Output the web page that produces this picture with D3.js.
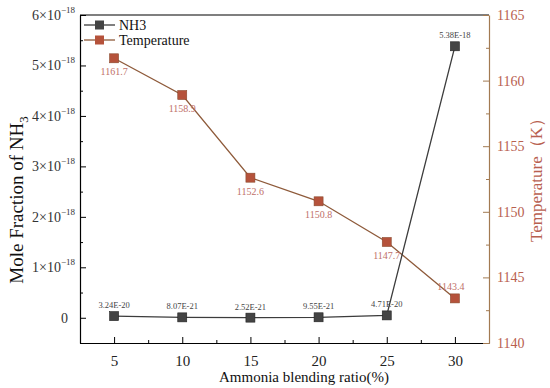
<!DOCTYPE html>
<html>
<head>
<meta charset="utf-8">
<script src="https://cdn.jsdelivr.net/npm/d3@7"></script>
<style>
  body { margin: 0; background: #fff; }
  text { font-family: "Liberation Serif", "DejaVu Serif", serif; }
</style>
</head>
<body>
<svg width="550" height="388"></svg>
<script>
var svg = d3.select('svg');

// data
var ratios = [5, 10, 15, 20, 25, 30];
var nh3 = [3.24e-20, 8.07e-21, 2.52e-21, 9.55e-21, 4.71e-20, 5.38e-18];
var nh3Labels = ["3.24E-20", "8.07E-21", "2.52E-21", "9.55E-21", "4.71E-20", "5.38E-18"];
var temperature = [1161.7, 1158.9, 1152.6, 1150.8, 1147.7, 1143.4];
var xTicks = [5, 10, 15, 20, 25, 30];
var leftTicks = [0, 1, 2, 3, 4, 5, 6];   // x 10^-18
var rightTicks = [1140, 1145, 1150, 1155, 1160, 1165];

var pLeft = 80, pRight = 489, pTop = 15, pBottom = 343;

var x = d3.scaleLinear().domain([2.5, 32.5]).range([pLeft, pRight]);
var yL = d3.scaleLinear().domain([-0.5e-18, 6e-18]).range([pBottom, pTop]);
var yR = d3.scaleLinear().domain([1140, 1165]).range([pBottom, pTop]);

var gray = '#3c3c3c';
var tempLine = '#8e5a3a';
var tempMark = '#b5523b';
var tempAxis = '#a27a52';
var tempText = '#b8604f';

// top frame
svg.append('line')
  .attr('x1', pLeft).attr('x2', pRight)
  .attr('y1', pTop).attr('y2', pTop)
  .attr('stroke', '#000').attr('stroke-width', 1.2);

// x axis
var xAxis = svg.append('g')
  .attr('transform', 'translate(0,' + pBottom + ')')
  .call(d3.axisBottom(x).tickValues(xTicks).tickSizeInner(-6).tickSizeOuter(0).tickPadding(12).tickFormat(d3.format('d')));
xAxis.select('.domain').attr('stroke', '#000').attr('stroke-width', 1.2);
xAxis.selectAll('.tick line').attr('stroke', '#000');
xAxis.selectAll('.tick text').attr('font-size', 15).attr('fill', '#222');
svg.append('g')
  .attr('transform', 'translate(0,' + pBottom + ')')
  .call(d3.axisBottom(x).tickValues([7.5, 12.5, 17.5, 22.5, 27.5]).tickSize(-3).tickFormat(''))
  .call(function (g) { g.select('.domain').remove(); g.selectAll('line').attr('stroke', '#000'); });

// left axis
var lAxis = svg.append('g')
  .attr('transform', 'translate(' + pLeft + ',0)')
  .call(d3.axisLeft(yL).tickValues(leftTicks.map(function (d) { return d * 1e-18; })).tickSizeInner(-6).tickSizeOuter(0).tickPadding(5).tickFormat(''));
lAxis.select('.domain').attr('stroke', '#000').attr('stroke-width', 1.2);
lAxis.selectAll('.tick line').attr('stroke', '#000');
lAxis.selectAll('.tick').each(function (d, i) {
  var t = d3.select(this).select('text').attr('font-size', 14).attr('fill', '#333');
  var v = leftTicks[i];
  if (v === 0) {
    t.text('0').attr('dx', -7);
  } else {
    t.text(v + '\u00d710');
    t.append('tspan').attr('dy', -7).attr('font-size', 9).text('\u221218');
  }
});
svg.append('g')
  .attr('transform', 'translate(' + pLeft + ',0)')
  .call(d3.axisLeft(yL).tickValues([-0.5, 0.5, 1.5, 2.5, 3.5, 4.5, 5.5].map(function (d) { return d * 1e-18; })).tickSize(-3).tickFormat(''))
  .call(function (g) { g.select('.domain').remove(); g.selectAll('line').attr('stroke', '#000'); });

// right axis
var rAxis = svg.append('g')
  .attr('transform', 'translate(' + pRight + ',0)')
  .call(d3.axisRight(yR).tickValues(rightTicks).tickSizeInner(-6).tickSizeOuter(0).tickPadding(8).tickFormat(d3.format('d')));
rAxis.select('.domain').attr('stroke', tempAxis).attr('stroke-width', 1.2);
rAxis.selectAll('.tick line').attr('stroke', tempAxis);
rAxis.selectAll('.tick text').attr('font-size', 14).attr('fill', tempText);
svg.append('g')
  .attr('transform', 'translate(' + pRight + ',0)')
  .call(d3.axisRight(yR).tickValues([1142.5, 1147.5, 1152.5, 1157.5, 1162.5]).tickSize(-3).tickFormat(''))
  .call(function (g) { g.select('.domain').remove(); g.selectAll('line').attr('stroke', tempAxis); });

// axis titles
var yt = svg.append('text')
  .attr('transform', 'translate(23,200) rotate(-90)')
  .attr('text-anchor', 'middle').attr('font-size', 19).attr('fill', '#111')
  .text('Mole Fraction of NH');
yt.append('tspan').attr('dy', 5).attr('font-size', 13).text('3');

svg.append('text')
  .attr('transform', 'translate(542,176) rotate(-90)')
  .attr('text-anchor', 'middle').attr('font-size', 17).attr('fill', tempText)
  .text('Temperature\uff08K\uff09');

svg.append('text')
  .attr('x', 304).attr('y', 382)
  .attr('text-anchor', 'middle').attr('font-size', 15).attr('fill', '#111')
  .text('Ammonia blending ratio(%)');

// temperature series
var tData = ratios.map(function (r, i) { return { x: r, y: temperature[i] }; });
svg.append('path')
  .datum(tData)
  .attr('fill', 'none').attr('stroke', tempLine).attr('stroke-width', 1.3)
  .attr('d', d3.line().x(function (d) { return x(d.x); }).y(function (d) { return yR(d.y); }));
svg.selectAll('rect.temp')
  .data(tData)
  .enter()
  .append('rect')
  .attr('class', 'temp')
  .attr('x', function (d) { return x(d.x) - 4.5; })
  .attr('y', function (d) { return yR(d.y) - 4.5; })
  .attr('width', 9).attr('height', 9)
  .attr('fill', tempMark).attr('stroke', '#8a4a2e').attr('stroke-width', 0.6);
svg.selectAll('text.tlab')
  .data(tData)
  .enter()
  .append('text')
  .attr('class', 'tlab')
  .attr('x', function (d, i) { return x(d.x) + (i === 5 ? -4 : 0); })
  .attr('y', function (d, i) { return i === 5 ? yR(d.y) - 8 : yR(d.y) + 17; })
  .attr('text-anchor', 'middle')
  .attr('font-size', 10).attr('fill', '#c0706a')
  .attr('font-family', '"DejaVu Serif", serif')
  .text(function (d) { return d.y.toFixed(1); });

// NH3 series
var nData = ratios.map(function (r, i) { return { x: r, y: nh3[i], label: nh3Labels[i] }; });
svg.append('path')
  .datum(nData)
  .attr('fill', 'none').attr('stroke', gray).attr('stroke-width', 1.3)
  .attr('d', d3.line().x(function (d) { return x(d.x); }).y(function (d) { return yL(d.y); }));
svg.selectAll('rect.nh3')
  .data(nData)
  .enter()
  .append('rect')
  .attr('class', 'nh3')
  .attr('x', function (d) { return x(d.x) - 4.5; })
  .attr('y', function (d) { return yL(d.y) - 4.5; })
  .attr('width', 9).attr('height', 9)
  .attr('fill', '#444').attr('stroke', '#222').attr('stroke-width', 0.6);
svg.selectAll('text.nlab')
  .data(nData)
  .enter()
  .append('text')
  .attr('class', 'nlab')
  .attr('x', function (d) { return x(d.x); })
  .attr('y', function (d) { return yL(d.y) - 8; })
  .attr('text-anchor', 'middle')
  .attr('font-size', 8.5).attr('fill', '#444')
  .attr('font-family', '"DejaVu Serif", serif')
  .text(function (d) { return d.label; });

// legend
var legend = [
  { name: 'NH3', line: gray, mark: '#444' },
  { name: 'Temperature', line: tempLine, mark: tempMark }
];
var lg = svg.selectAll('g.leg')
  .data(legend)
  .enter()
  .append('g')
  .attr('class', 'leg')
  .attr('transform', function (d, i) { return 'translate(84,' + (25 + i * 15) + ')'; });
lg.append('line').attr('x1', 0).attr('x2', 31).attr('stroke', function (d) { return d.line; }).attr('stroke-width', 1.3);
lg.append('rect').attr('x', 11).attr('y', -4.5).attr('width', 9).attr('height', 9)
  .attr('fill', function (d) { return d.mark; });
lg.append('text').attr('x', 35).attr('y', 5).attr('font-size', 14).attr('fill', '#111')
  .text(function (d) { return d.name; });
</script>
</body>
</html>
